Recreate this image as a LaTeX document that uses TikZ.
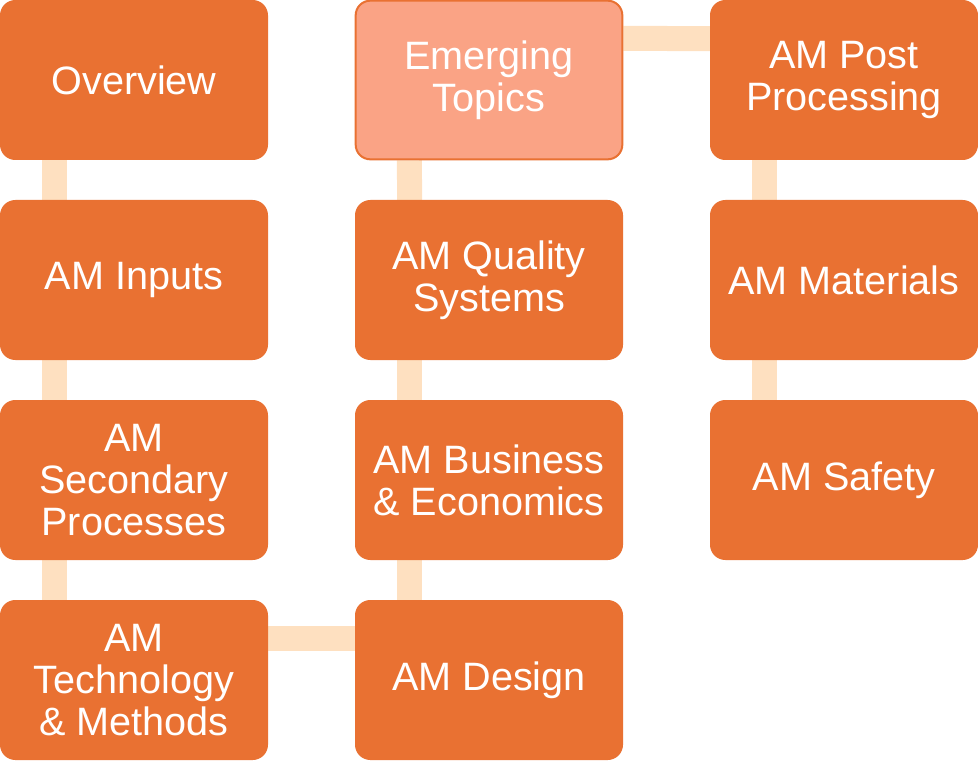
\documentclass[tikz,border=0pt]{standalone}
\usepackage{fontspec}
\setmainfont{Liberation Sans}
\usetikzlibrary{backgrounds}
\definecolor{amorange}{HTML}{E97132}
\definecolor{amlight}{HTML}{FAA385}
\definecolor{amlink}{HTML}{FEE0C0}
\begin{document}
\begin{tikzpicture}[x=0.75pt,y=-0.75pt,
  topic/.style={draw=amorange,line width=1pt,fill=amorange,rounded corners=11pt,
    minimum width=200pt,minimum height=119pt,inner sep=2pt,text=white,
    align=center,font=\fontsize{29.7}{31.5}\selectfont},
  current/.style={topic,fill=amlight,line width=1.5pt},
  link/.style={draw=amlink,line width=18.75pt}]
\useasboundingbox (0,0) rectangle (978,763);
% first column
\node[topic] (ov)   at (134,80)  {Overview};
\node[topic] (inp)  at (134,280) {AM Inputs};
\node[topic] (sec)  at (134,480) {AM\\Secondary\\Processes};
\node[topic] (tech) at (134,680) {AM\\Technology\\\& Methods};
% second column
\node[current] (emg) at (489,80)  {Emerging\\Topics};
\node[topic] (qual) at (489,280) {AM Quality\\Systems};
\node[topic] (bus)  at (489,480) {AM Business\\\& Economics};
\node[topic] (des)  at (489,680) {AM Design};
% third column
\node[topic] (post) at (844,80)  {AM Post\\Processing};
\node[topic] (mat)  at (844,280) {AM Materials};
\node[topic] (saf)  at (844,480) {AM Safety};
% connectors behind the boxes
\begin{scope}[on background layer]
  \path[link] ([xshift=41pt]ov.south west) -- ([xshift=41pt]inp.north west);
  \path[link] ([xshift=41pt]inp.south west) -- ([xshift=41pt]sec.north west);
  \path[link] ([xshift=41pt]sec.south west) -- ([xshift=41pt]tech.north west);
  \path[link] ([yshift=-29pt]tech.north east) -- ([yshift=-29pt]des.north west);
  \path[link] ([xshift=41pt]des.north west) -- ([xshift=41pt]bus.south west);
  \path[link] ([xshift=41pt]bus.north west) -- ([xshift=41pt]qual.south west);
  \path[link] ([xshift=41pt]qual.north west) -- ([xshift=41pt]emg.south west);
  \path[link] ([yshift=-29pt]emg.north east) -- ([yshift=-29pt]post.north west);
  \path[link] ([xshift=41pt]post.south west) -- ([xshift=41pt]mat.north west);
  \path[link] ([xshift=41pt]mat.south west) -- ([xshift=41pt]saf.north west);
\end{scope}
\end{tikzpicture}
\end{document}
